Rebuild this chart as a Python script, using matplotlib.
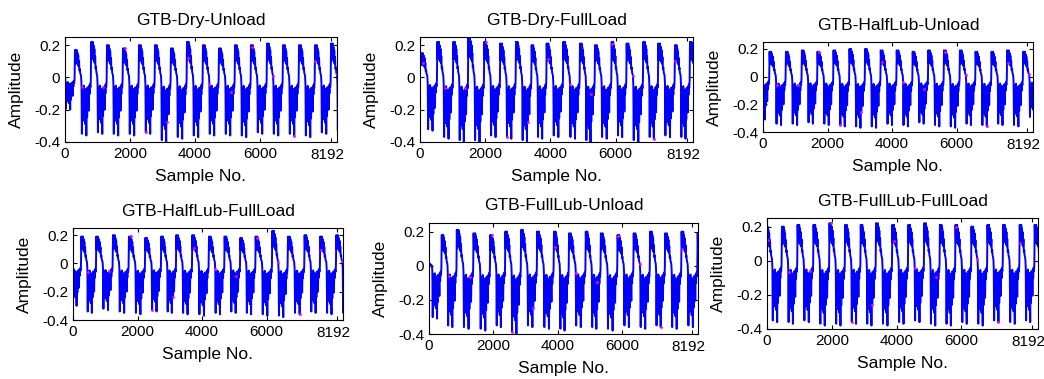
import matplotlib
matplotlib.use("Agg")
import matplotlib.pyplot as plt
import numpy as np

plt.rcParams['font.family'] = ['Liberation Sans', 'DejaVu Sans']

titles = ["GTB-Dry-Unload", "GTB-Dry-FullLoad", "GTB-HalfLub-Unload",
          "GTB-HalfLub-FullLoad", "GTB-FullLub-Unload", "GTB-FullLub-FullLoad"]

# one period of the gear-box waveform: sharp rise,
# dense positive burst, stepped decay, dense negative burst with deep spikes
cycle_shape = np.array([
    0.20, 0.10, 0.19, 0.11, 0.20, 0.12, 0.18, 0.09, 0.16, 0.08, 0.12, 0.05,
    0.06, 0.03, 0.02, 0.01, -0.04,
    -0.34, -0.06, -0.22, -0.08, -0.26, -0.05, -0.20, -0.10, -0.28, -0.07,
    -0.18, -0.35, -0.09, -0.24, -0.06, -0.16, -0.08, -0.20, -0.05,
    -0.10, -0.04, -0.06, -0.02])

# sample index of each cycle's positive burst
peaks = [
    [-184, 307, 807, 1293, 1784, 2277, 2770, 3261, 3754, 4246, 4739, 5232,
     5724, 6217, 6709, 7202, 7695, 8187],
    [41, 531, 1022, 1482, 1972, 2463, 2943, 3424, 3884, 4395, 4906, 5366,
     5877, 6336, 6847, 7307, 7818, 8278],
    [-286, 204, 711, 1206, 1691, 2187, 2682, 3166, 3651, 4146, 4641, 5125,
     5611, 6105, 6591, 7086, 7570, 8066],
    [-235, 259, 724, 1240, 1735, 2242, 2738, 3203, 3700, 4216, 4701, 5188,
     5663, 6179, 6664, 7181, 7666, 8163],
    [-92, 397, 866, 1387, 1908, 2377, 2867, 3367, 3889, 4358, 4879, 5348,
     5869, 6370, 6881, 7349, 7860, 8360],
    [-31, 462, 945, 1438, 1931, 2414, 2896, 3368, 3872, 4365, 4858, 5341,
     5823, 6316, 6810, 7293, 7806, 8268],
]

# highest value of each positive burst
highs = [
    [0.17, 0.17, 0.22, 0.20, 0.18, 0.20, 0.20, 0.18, 0.22, 0.20, 0.18, 0.20,
     0.20, 0.21, 0.20, 0.20, 0.20, 0.21],
    [0.15, 0.22, 0.22, 0.25, 0.22, 0.21, 0.22, 0.20, 0.21, 0.22, 0.21, 0.20,
     0.22, 0.21, 0.22, 0.21, 0.20, 0.22],
    [0.18, 0.18, 0.18, 0.19, 0.18, 0.19, 0.20, 0.20, 0.19, 0.19, 0.18, 0.19,
     0.19, 0.19, 0.18, 0.18, 0.19, 0.18],
    [0.19, 0.19, 0.19, 0.20, 0.19, 0.18, 0.19, 0.20, 0.20, 0.19, 0.19, 0.18,
     0.19, 0.23, 0.19, 0.20, 0.19, 0.20],
    [0.02, 0.18, 0.21, 0.19, 0.18, 0.20, 0.21, 0.20, 0.20, 0.19, 0.20, 0.19,
     0.18, 0.19, 0.20, 0.19, 0.20, 0.19],
    [0.20, 0.20, 0.21, 0.21, 0.22, 0.21, 0.21, 0.22, 0.21, 0.21, 0.22, 0.21,
     0.21, 0.20, 0.21, 0.21, 0.21, 0.21],
]

# deepest spike of each negative burst
lows = [
    [-0.20, -0.36, -0.35, -0.36, -0.36, -0.35, -0.40, -0.38, -0.37, -0.36,
     -0.36, -0.37, -0.35, -0.36, -0.36, -0.37, -0.35, -0.34],
    [-0.33, -0.38, -0.40, -0.40, -0.37, -0.38, -0.40, -0.38, -0.37, -0.38,
     -0.40, -0.38, -0.37, -0.40, -0.38, -0.37, -0.38, -0.36],
    [-0.31, -0.35, -0.35, -0.34, -0.35, -0.36, -0.37, -0.37, -0.35, -0.36,
     -0.34, -0.36, -0.37, -0.35, -0.36, -0.35, -0.36, -0.30],
    [-0.30, -0.35, -0.33, -0.35, -0.36, -0.34, -0.35, -0.36, -0.37, -0.36,
     -0.35, -0.36, -0.37, -0.38, -0.36, -0.35, -0.36, -0.36],
    [-0.31, -0.36, -0.37, -0.38, -0.36, -0.40, -0.36, -0.37, -0.38, -0.36,
     -0.37, -0.38, -0.36, -0.37, -0.36, -0.37, -0.36, -0.30],
    [-0.36, -0.37, -0.36, -0.38, -0.38, -0.37, -0.38, -0.38, -0.37, -0.36,
     -0.38, -0.38, -0.37, -0.38, -0.36, -0.37, -0.36, -0.35],
]

xtick_vals = [0, 2000, 4000, 6000, 8192]
ytick_vals = [-0.4, -0.2, 0, 0.2]
ytick_labels = ["-0.4", "-0.2", "0", "0.2"]

# axes boxes in pixels: left, top, right, bottom
boxes = [(65, 37, 337, 142), (420, 37, 693, 142), (763, 42, 1033, 132),
         (73, 228, 343, 320), (429, 223, 698, 334), (767, 218, 1038, 329)]

W, H = 1044, 379


def build(pk, hi, lo):
    n = len(cycle_shape)
    pos = np.arange(n) / n
    xs, ys = [], []
    for k in range(len(pk)):
        span = pk[k + 1] - pk[k] if k + 1 < len(pk) else pk[k] - pk[k - 1]
        xs.append(pk[k] + pos * span)
        ys.append(np.where(cycle_shape > 0, cycle_shape * hi[k] / 0.2,
                           cycle_shape * lo[k] / -0.35))
    return np.concatenate(xs), np.concatenate(ys)


fig = plt.figure(figsize=(W / 100, H / 100), dpi=100)
for i in range(6):
    l, t, r, b = boxes[i]
    ax = fig.add_axes([l / W, 1 - b / H, (r - l) / W, (b - t) / H])
    x, y = build(peaks[i], highs[i], lows[i])
    ax.plot(x, y, color='#0000ff', lw=1.4)
    ax.plot(x[5::53], y[5::53], '.', color='#ff00ff', ms=2)
    ax.set_xlim(0, 8370)
    ax.set_ylim(-0.4, 0.25)
    ax.set_xticks(xtick_vals)
    # last label is drawn by hand a little to the left, as in the source
    ax.set_xticklabels([str(v) for v in xtick_vals[:-1]] + [""])
    ax.annotate(str(xtick_vals[-1]), xy=(xtick_vals[-1], 0),
                xycoords=ax.get_xaxis_transform(), xytext=(-3, -4),
                textcoords='offset points', ha='center', va='top', fontsize=11)
    ax.set_yticks(ytick_vals)
    ax.set_yticklabels(ytick_labels)
    ax.tick_params(direction='in', length=3, labelsize=11, top=True, right=True,
                   labeltop=False, labelright=False)
    ax.set_title(titles[i], fontsize=12.5, pad=9)
    ax.set_xlabel("Sample No.", fontsize=12.5, labelpad=6)
    ax.set_ylabel("Amplitude", fontsize=12.5, labelpad=7)

fig.savefig("out.png", dpi=100)
